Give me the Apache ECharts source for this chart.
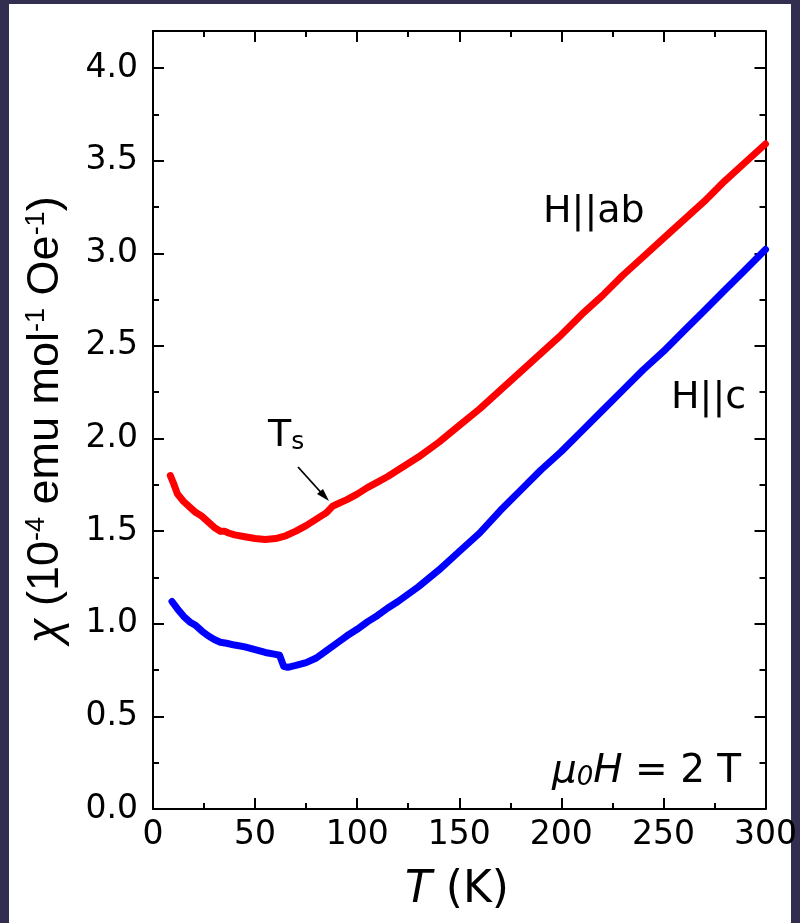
<!DOCTYPE html>
<html>
<head>
<meta charset="utf-8">
<script src="https://cdn.jsdelivr.net/npm/echarts@6/dist/echarts.min.js"></script>
<style>
  html, body { margin: 0; padding: 0; }
  body { width: 800px; height: 923px; background: #312e50; position: relative; overflow: hidden; }
  #panel { position: absolute; left: 9px; top: 4px; width: 782px; height: 919px; background: #ffffff; }
  #chart { position: absolute; left: 0; top: 0; width: 800px; height: 923px; }
</style>
</head>
<body>
<div id="panel"></div>
<div id="chart"></div>
<script>
// Magnetic susceptibility vs temperature, mu0H = 2 T
const tempAb = [8.5, 10, 12, 15, 18, 21, 24, 27, 30, 33, 35, 37, 40, 45, 50, 55, 60, 65, 70, 75, 80, 85, 88, 90, 95, 100, 105, 110, 115, 120, 130, 140, 150, 160, 170, 180, 190, 200, 210, 220, 230, 240, 250, 260, 270, 280, 290, 300];
const chiAb = [1.80, 1.76, 1.70, 1.66, 1.63, 1.60, 1.58, 1.55, 1.52, 1.50, 1.50, 1.49, 1.48, 1.47, 1.46, 1.455, 1.46, 1.475, 1.50, 1.53, 1.565, 1.60, 1.635, 1.645, 1.67, 1.70, 1.735, 1.765, 1.795, 1.83, 1.90, 1.98, 2.07, 2.16, 2.26, 2.36, 2.46, 2.56, 2.67, 2.77, 2.88, 2.98, 3.08, 3.18, 3.28, 3.39, 3.49, 3.59];

const tempC = [9.3, 12, 15, 18, 21, 24, 27, 30, 33, 36, 40, 45, 50, 55, 60, 62, 63, 64, 66, 70, 75, 80, 85, 90, 95, 100, 105, 110, 115, 120, 130, 140, 150, 160, 170, 180, 190, 200, 210, 220, 230, 240, 250, 260, 270, 280, 290, 300];
const chiC = [1.12, 1.08, 1.04, 1.01, 0.99, 0.96, 0.935, 0.915, 0.90, 0.895, 0.885, 0.875, 0.86, 0.845, 0.835, 0.83, 0.80, 0.77, 0.765, 0.775, 0.79, 0.815, 0.855, 0.895, 0.935, 0.97, 1.01, 1.045, 1.085, 1.12, 1.20, 1.29, 1.39, 1.49, 1.61, 1.72, 1.83, 1.93, 2.04, 2.15, 2.26, 2.37, 2.47, 2.58, 2.69, 2.80, 2.91, 3.02];

const xTicks = [0, 50, 100, 150, 200, 250, 300];
const yTicks = [0.0, 0.5, 1.0, 1.5, 2.0, 2.5, 3.0, 3.5, 4.0];

const FONT = 'DejaVu Sans';
const FONT_NARROW = 'Liberation Sans';

function pairs(xs, ys) { return xs.map((x, i) => [x, ys[i]]); }

const chart = echarts.init(document.getElementById('chart'), null, { renderer: 'canvas' });

const axisCommon = {
  axisLine: { show: true, onZero: false, lineStyle: { color: '#000', width: 2 } },
  axisTick: { show: true, inside: true, length: 11, lineStyle: { color: '#000', width: 2 } },
  minorTick: { show: true, splitNumber: 2, length: 6, lineStyle: { color: '#000', width: 2 } },
  splitLine: { show: false }
};

chart.setOption({
  animation: false,
  backgroundColor: 'transparent',
  grid: { left: 153, right: 33, top: 31, bottom: 114, containLabel: false },
  xAxis: [
    Object.assign({}, axisCommon, {
      type: 'value', position: 'bottom', min: xTicks[0], max: xTicks[xTicks.length - 1], interval: 50,
      axisLabel: { color: '#000', fontFamily: FONT, fontSize: 33, margin: 10,
        formatter: v => xTicks.includes(v) ? String(v) : '' }
    }),
    Object.assign({}, axisCommon, {
      type: 'value', position: 'top', min: xTicks[0], max: xTicks[xTicks.length - 1], interval: 50,
      axisLabel: { show: false }
    })
  ],
  yAxis: [
    Object.assign({}, axisCommon, {
      type: 'value', position: 'left', min: 0, max: 4.2, interval: 0.5,
      axisLabel: { color: '#000', fontFamily: FONT, fontSize: 33, margin: 15, showMaxLabel: false,
        formatter: v => yTicks.some(t => Math.abs(t - v) < 1e-9) ? v.toFixed(1) : '' }
    }),
    Object.assign({}, axisCommon, {
      type: 'value', position: 'right', min: 0, max: 4.2, interval: 0.5,
      axisLabel: { show: false }
    })
  ],
  series: [
    {
      name: 'H||ab', type: 'line', xAxisIndex: 0, yAxisIndex: 0,
      data: pairs(tempAb, chiAb), showSymbol: false, smooth: false,
      lineStyle: { color: '#ff0000', width: 7, cap: 'round', join: 'round' }
    },
    {
      name: 'H||c', type: 'line', xAxisIndex: 0, yAxisIndex: 0,
      data: pairs(tempC, chiC), showSymbol: false, smooth: false,
      lineStyle: { color: '#0000ff', width: 7, cap: 'round', join: 'round' }
    }
  ],
  graphic: [
    {
      type: 'text', x: 46, y: 420, rotation: Math.PI / 2,
      style: {
        text: '{g|χ} (10{sup|-4} emu mol{sup|-1} Oe{sup|-1})',
        fill: '#000', font: '45px ' + FONT_NARROW, align: 'center', verticalAlign: 'middle',
        rich: {
          g: { fontFamily: FONT_NARROW, fontSize: 46, fontStyle: 'italic' },
          sup: { fontFamily: FONT_NARROW, fontSize: 27, verticalAlign: 'top' }
        }
      }
    },
    {
      type: 'text', x: 457, y: 891,
      style: {
        text: '{i|T} (K)', fill: '#000', font: '44px ' + FONT, align: 'center', verticalAlign: 'middle',
        rich: { i: { fontFamily: FONT, fontSize: 44, fontStyle: 'italic' } }
      }
    },
    {
      type: 'text', x: 543, y: 212,
      style: { text: 'H||ab', fill: '#000', font: '38px ' + FONT, align: 'left', verticalAlign: 'middle' }
    },
    {
      type: 'text', x: 671, y: 398,
      style: { text: 'H||c', fill: '#000', font: '38px ' + FONT, align: 'left', verticalAlign: 'middle' }
    },
    {
      type: 'text', x: 268, y: 436,
      style: {
        text: '{t|T}{s|s}', fill: '#000', align: 'left', verticalAlign: 'middle',
        rich: {
          t: { fontFamily: FONT, fontSize: 38, verticalAlign: 'top' },
          s: { fontFamily: FONT, fontSize: 25, verticalAlign: 'bottom' }
        }
      }
    },
    {
      type: 'line', shape: { x1: 298, y1: 467, x2: 326, y2: 498 },
      style: { stroke: '#000', lineWidth: 1.8 }
    },
    {
      type: 'polygon', shape: { points: [[329, 501], [317, 494], [323, 489]] },
      style: { fill: '#000' }
    },
    {
      type: 'text', x: 552, y: 772,
      style: {
        text: '{i|μ}{sub|0}{i|H} = 2 T', fill: '#000', font: '39px ' + FONT, align: 'left', verticalAlign: 'middle',
        rich: {
          i: { fontFamily: FONT, fontSize: 39, fontStyle: 'italic' },
          sub: { fontFamily: FONT, fontSize: 26, fontStyle: 'italic', verticalAlign: 'bottom' }
        }
      }
    }
  ]
});
</script>
</body>
</html>
